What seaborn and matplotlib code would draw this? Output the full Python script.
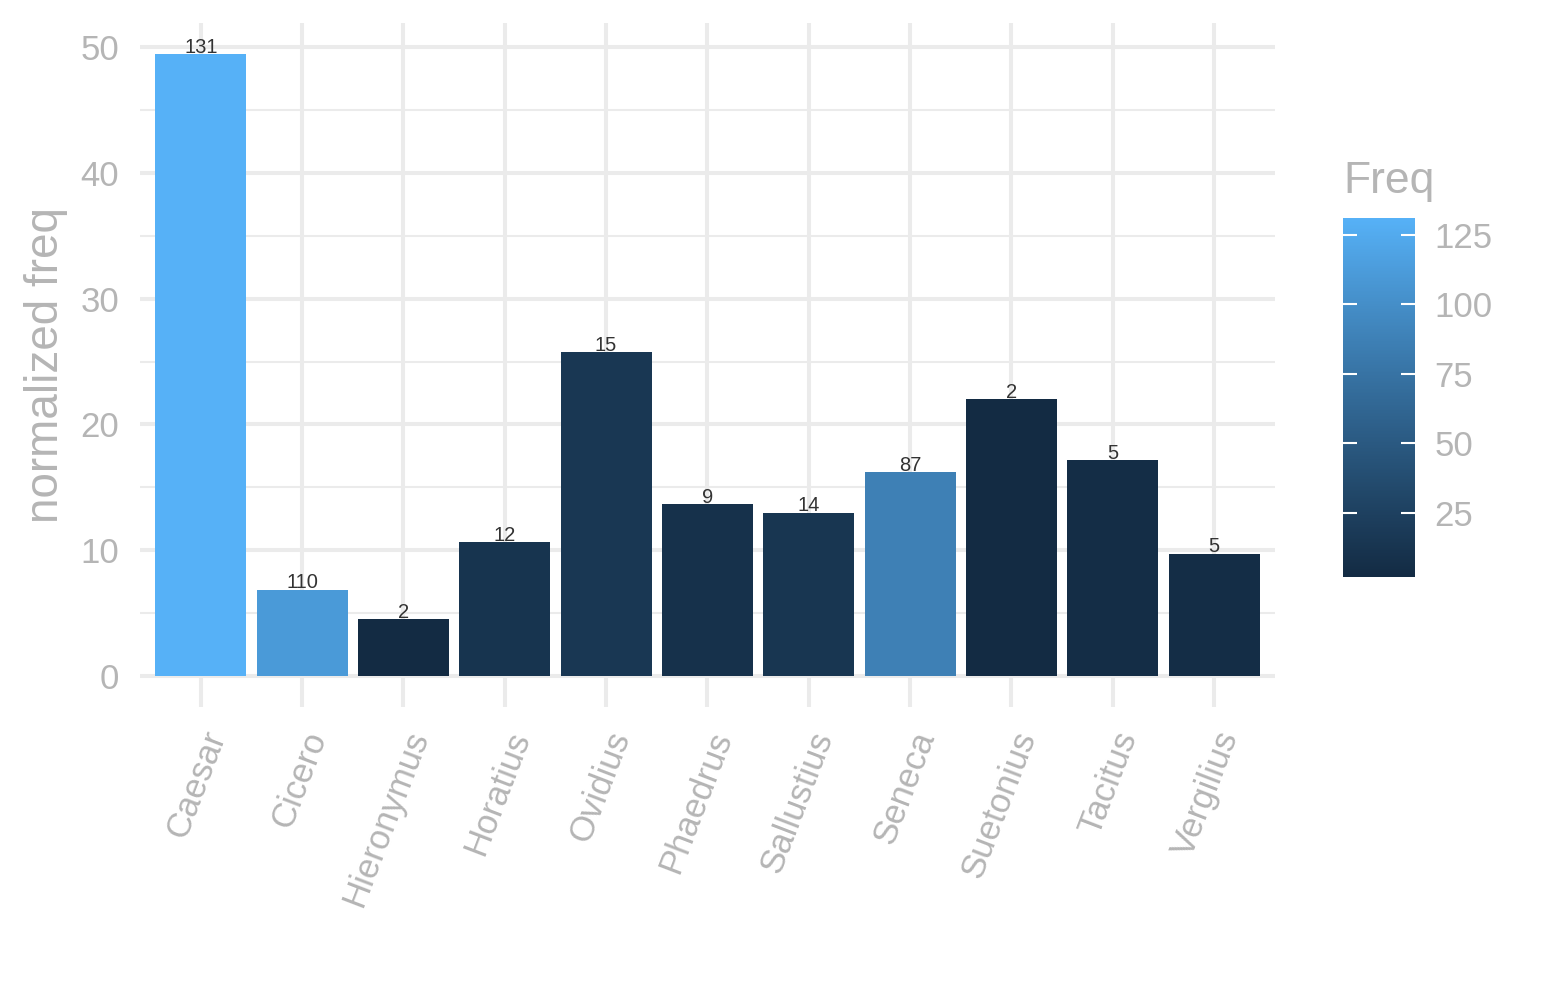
import numpy as np
import pandas as pd
import matplotlib
matplotlib.use("Agg")
import matplotlib.pyplot as plt
import matplotlib.colors as mcolors
from matplotlib.ticker import MultipleLocator
import seaborn as sns

authors = ["Caesar", "Cicero", "Hieronymus", "Horatius", "Ovidius", "Phaedrus",
           "Sallustius", "Seneca", "Suetonius", "Tacitus", "Vergilius"]
norm_freq = [49.45, 6.85, 4.53, 10.65, 25.76, 13.67, 12.96, 16.22, 22.02, 17.17, 9.70]
freq = [131, 110, 2, 12, 15, 9, 14, 87, 2, 5, 5]
cbar_ticks = [25, 50, 75, 100, 125]

# --- ggplot-like Lab gradient #132B43 -> #56B1F7 ---
def _srgb_to_lin(c):
    c = np.asarray(c, float)
    return np.where(c <= 0.04045, c / 12.92, ((c + 0.055) / 1.055) ** 2.4)

def _lin_to_srgb(c):
    c = np.clip(c, 0, 1)
    return np.where(c <= 0.0031308, 12.92 * c, 1.055 * c ** (1 / 2.4) - 0.055)

M = np.array([[0.4124, 0.3576, 0.1805], [0.2126, 0.7152, 0.0722], [0.0193, 0.1192, 0.9505]])
Minv = np.linalg.inv(M)
WP = np.array([0.95047, 1.0, 1.08883])

def _f(t):
    d = 6 / 29
    return np.where(t > d ** 3, np.cbrt(t), t / (3 * d * d) + 4 / 29)

def _finv(t):
    d = 6 / 29
    return np.where(t > d, t ** 3, 3 * d * d * (t - 4 / 29))

def rgb2lab(rgb):
    xyz = M @ _srgb_to_lin(rgb) / WP
    fx, fy, fz = _f(xyz)
    return np.array([116 * fy - 16, 500 * (fx - fy), 200 * (fy - fz)])

def lab2rgb(lab):
    L, a, b = lab
    fy = (L + 16) / 116
    fx = fy + a / 500
    fz = fy - b / 200
    xyz = np.array([_finv(fx), _finv(fy), _finv(fz)]) * WP
    return _lin_to_srgb(Minv @ xyz)

lo = rgb2lab(mcolors.to_rgb("#132B43"))
hi = rgb2lab(mcolors.to_rgb("#56B1F7"))
ts = np.linspace(0, 1, 256)
cols = [tuple(lab2rgb(lo + (hi - lo) * t)) for t in ts]
cmap = mcolors.ListedColormap(cols)
cnorm = mcolors.Normalize(vmin=min(freq), vmax=max(freq))

df = pd.DataFrame({"author": authors, "nf": norm_freq, "freq": freq})
palette = {a: cmap(cnorm(f)) for a, f in zip(authors, freq)}

sns.set_theme(style="white")
plt.rcParams["font.family"] = ["Liberation Sans", "DejaVu Sans"]

grey_txt = "#B5B5B5"
grid_c = "#EBEBEB"

fig = plt.figure(figsize=(15.45, 10), dpi=100)
ax = fig.add_axes([0.0906, 0.293, 0.7346, 0.684])

sns.barplot(data=df, x="author", y="nf", hue="author", palette=palette,
            width=0.9, legend=False, ax=ax, linewidth=0, saturation=1)

ymax = max(norm_freq)
ax.set_ylim(-0.05 * ymax, 1.05 * ymax)
ax.set_xlim(-0.6, len(authors) - 0.4)
ax.yaxis.set_major_locator(MultipleLocator(10))
ax.yaxis.set_minor_locator(MultipleLocator(5))
ax.grid(True, which="major", axis="both", color=grid_c, linewidth=2.9, zorder=0)
ax.grid(True, which="minor", axis="y", color=grid_c, linewidth=1.5, zorder=0)
ax.set_axisbelow(True)
for s in ax.spines.values():
    s.set_visible(False)

ax.tick_params(axis="y", length=0, pad=15, labelsize=25, labelcolor=grey_txt)
ax.tick_params(axis="x", length=0, pad=14, labelsize=25, labelcolor=grey_txt)
for lbl in ax.get_xticklabels():
    lbl.set_rotation(69)
    lbl.set_ha("right")
    lbl.set_va("top")
    lbl.set_rotation_mode("anchor")

ax.set_xlabel("")
ax.set_ylabel("normalized freq", fontsize=33, color=grey_txt, labelpad=9)

for i, (v, f) in enumerate(zip(norm_freq, freq)):
    ax.annotate(str(f), (i, v), xytext=(0, 5), textcoords="offset points",
                ha="center", va="center", fontsize=14.5, color="#333333")

# colorbar
cax = fig.add_axes([0.8692, 0.423, 0.0466, 0.359])
sm = matplotlib.cm.ScalarMappable(norm=cnorm, cmap=cmap)
cb = fig.colorbar(sm, cax=cax, ticks=cbar_ticks)
cb.outline.set_visible(False)
cax.set_axisbelow(False)
cax.tick_params(axis="y", which="both", direction="in", length=10, width=1.5,
                color="white", labelsize=25, labelcolor=grey_txt, pad=14,
                left=True, right=True, labelleft=False, labelright=True)
cax.set_title("Freq", fontsize=32, color=grey_txt, loc="left", pad=18)

fig.savefig("out.png", dpi=100, facecolor="white")
